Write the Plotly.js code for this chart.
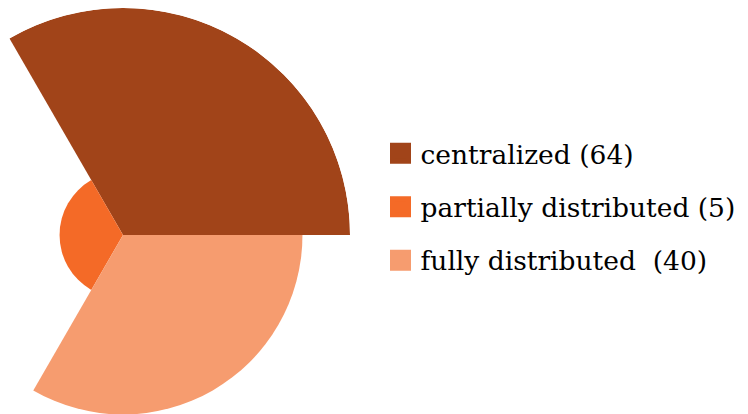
<!DOCTYPE html>
<html>
<head>
<meta charset="utf-8">
<script src="https://cdn.plot.ly/plotly-3.0.1.min.js"></script>
<style>
  html, body { margin: 0; padding: 0; width: 748px; height: 414px; overflow: hidden; background: #ffffff; }
  #chart { position: absolute; left: -106px; top: 0px; width: 856px; height: 470px; }
</style>
</head>
<body>
<div id="chart"></div>
<script>
// Data
const categories = ["centralized", "partially distributed", "fully distributed"];
const counts = [64, 5, 40];
const legendLabels = ["centralized (64)", "partially distributed (5)", "fully distributed\u00A0 (40)"];
const sectorCenters = [60, 180, 300];   // degrees
const sectorWidths = [120, 120, 120];   // degrees
const colors = ["#A14419", "#F46A27", "#F69C6F"];

const W = 856, H = 470;
const FONT = "DejaVu Serif";
const traces = [];
// Area-proportional sectors: radius = sqrt(count)
categories.forEach((c, i) => {
  traces.push({
    type: "barpolar",
    name: c,
    r: [Math.sqrt(counts[i])],
    theta: [sectorCenters[i]],
    width: [sectorWidths[i]],
    marker: { color: colors[i], line: { width: 0 } },
    showlegend: false,
    hoverinfo: "skip"
  });
});
// Legend entries
categories.forEach((c, i) => {
  traces.push({
    type: "scatterpolar",
    mode: "markers",
    name: legendLabels[i],
    r: [null],
    theta: [null],
    legendgroup: "g" + i,
    marker: { symbol: "square", size: 16, color: colors[i], line: { width: 5, color: colors[i] } },
    hoverinfo: "skip"
  });
});

const layout = {
  width: W,
  height: H,
  margin: { l: 0, r: 0, t: 0, b: 0 },
  paper_bgcolor: "#ffffff",
  showlegend: true,
  font: { family: FONT, color: "#000000" },
  polar: {
    domain: { x: [2 / W, 456 / W], y: [8 / H, 462 / H] },
    bgcolor: "rgba(0,0,0,0)",
    radialaxis: { visible: false, range: [0, Math.sqrt(Math.max(...counts))] },
    angularaxis: { visible: false, direction: "counterclockwise", rotation: 0 },
    barmode: "overlay"
  },
  legend: {
    x: 486.5 / W,
    xanchor: "left",
    y: 1 - 207 / H,
    yanchor: "middle",
    font: { family: FONT, size: 26.5, color: "#000000" },
    bgcolor: "rgba(0,0,0,0)",
    borderwidth: 0,
    tracegroupgap: 16,
    itemclick: false
  }
};

Plotly.newPlot("chart", traces, layout, { displayModeBar: false, staticPlot: true });
</script>
</body>
</html>
